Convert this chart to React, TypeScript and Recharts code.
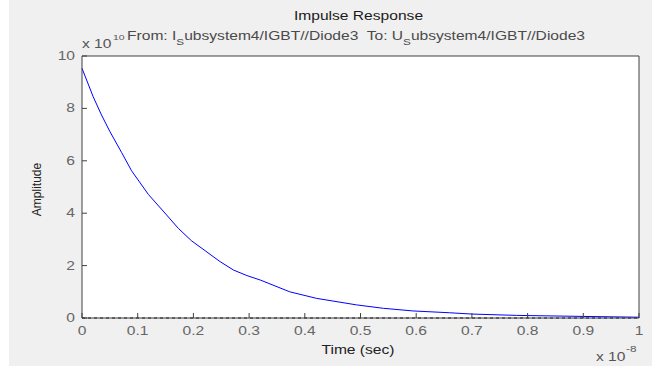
import React from 'react'
import { LineChart, Line, XAxis, YAxis, CartesianGrid, ReferenceLine } from 'recharts'

// time in units of 1e-8 s, amplitude in units of 1e10
const TIME = [0, 0.02, 0.035, 0.05, 0.071, 0.089, 0.119, 0.152, 0.173, 0.197, 0.221, 0.248, 0.272, 0.296, 0.32, 0.373, 0.421, 0.493, 0.541, 0.594, 0.66, 0.7, 0.78, 0.9, 1.0]
const AMPLITUDE = [9.53, 8.45, 7.75, 7.12, 6.32, 5.62, 4.72, 3.93, 3.42, 2.94, 2.57, 2.15, 1.83, 1.62, 1.45, 1.0, 0.75, 0.5, 0.37, 0.27, 0.2, 0.15, 0.1, 0.06, 0.03]
const X_TICKS = [0, 0.1, 0.2, 0.3, 0.4, 0.5, 0.6, 0.7, 0.8, 0.9, 1]
const Y_TICKS = [0, 2, 4, 6, 8, 10]

const data = TIME.map((t, i) => ({ t, amp: AMPLITUDE[i] }))

const FONT = '"Liberation Sans", Arial, sans-serif'
const STRETCH = 1.3
const AXIS = '#404040'

const XTick = ({ x, y, payload }: any) => (
  <text transform={`translate(${x},${y + 17}) scale(${STRETCH},1)`} textAnchor="middle"
    fontFamily={FONT} fontSize={12} fill="#666">
    {String(payload.value)}
  </text>
)

const YTick = ({ x, y, payload }: any) => (
  <text transform={`translate(${x - 7},${y + 4}) scale(${STRETCH},1)`} textAnchor="end"
    fontFamily={FONT} fontSize={12} fill="#666">
    {String(payload.value)}
  </text>
)

export default function App() {
  return (
    <div style={{ position: 'absolute', left: 0, top: 0, width: 656, height: 367, background: '#fff' }}>
      <div style={{ position: 'absolute', left: 9, top: 0, width: 643, height: 366, background: '#f0f0f0' }} />
      <div style={{ position: 'absolute', left: 0, top: 0 }}>
        <LineChart width={656} height={367} data={data} margin={{ top: 55, right: 16, bottom: 48, left: 81 }}>
          <CartesianGrid horizontal={false} vertical={false} fill="#ffffff" fillOpacity={1} />
          <XAxis dataKey="t" type="number" domain={[0, 1]} ticks={X_TICKS} interval={0} height={1}
            tickSize={-5} tickMargin={5} axisLine={{ stroke: AXIS }} tickLine={{ stroke: AXIS }} tick={<XTick />} />
          <XAxis xAxisId="top" orientation="top" type="number" domain={[0, 1]} ticks={X_TICKS} interval={0}
            height={1} tickSize={-5} axisLine={{ stroke: AXIS }} tickLine={{ stroke: AXIS }} tick={false} />
          <YAxis type="number" domain={[0, 10]} ticks={Y_TICKS} interval={0} width={1}
            tickSize={-5} tickMargin={5} axisLine={{ stroke: AXIS }} tickLine={{ stroke: AXIS }} tick={<YTick />} />
          <YAxis yAxisId="right" orientation="right" type="number" domain={[0, 10]} ticks={Y_TICKS} interval={0}
            width={1} tickSize={-5} axisLine={{ stroke: AXIS }} tickLine={{ stroke: AXIS }} tick={false} />
          <ReferenceLine y={0} stroke="#000" strokeDasharray="3 3" />
          <Line type="linear" dataKey="amp" stroke="#0000ff" strokeWidth={1} dot={false} isAnimationActive={false} />
        </LineChart>
      </div>
      <svg width={656} height={367} style={{ position: 'absolute', left: 0, top: 0, pointerEvents: 'none' }}
        fontFamily={FONT}>
        <text transform={`translate(358.5,20) scale(${STRETCH},1)`} textAnchor="middle" fontSize={12} fill="#1a1a1a">
          Impulse Response
        </text>
        <text transform={`translate(82,47.5) scale(${STRETCH},1)`} fontSize={12} fill="#555">x 10</text>
        <text transform={`translate(113,40) scale(${STRETCH},1)`} fontSize={8} fill="#555">10</text>
        <text transform={`translate(127,40) scale(${STRETCH},1)`} fontSize={12} fill="#4a4a4a" style={{ whiteSpace: 'pre' }}>
          From: I<tspan fontSize={9} dy={5}>S</tspan>
          <tspan dy={-5}>ubsystem4/IGBT//Diode3  To: U</tspan>
          <tspan fontSize={9} dy={5}>S</tspan>
          <tspan dy={-5}>ubsystem4/IGBT//Diode3</tspan>
        </text>
        <text transform="translate(41,189.5) rotate(-90)" textAnchor="middle" fontSize={12} fill="#222">
          Amplitude
        </text>
        <text transform={`translate(358,354) scale(${STRETCH},1)`} textAnchor="middle" fontSize={12} fill="#222">
          Time (sec)
        </text>
        <text transform={`translate(596,361) scale(${STRETCH},1)`} fontSize={12} fill="#555">x 10</text>
        <text transform={`translate(626,352) scale(${STRETCH},1)`} fontSize={9} fill="#555">-8</text>
      </svg>
    </div>
  )
}
